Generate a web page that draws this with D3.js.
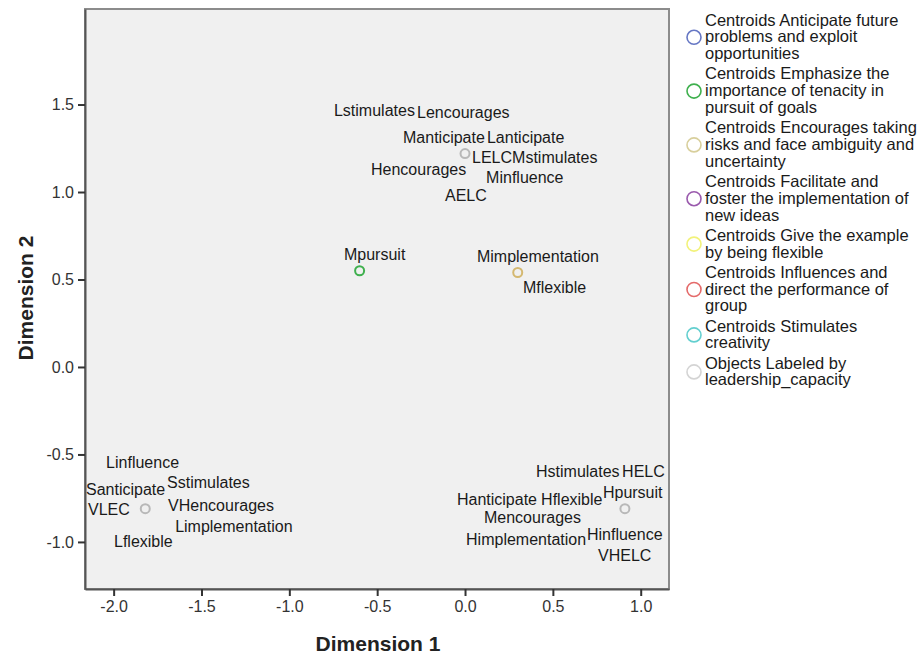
<!DOCTYPE html>
<html lang="en">
<head>
    <meta charset="utf-8">
    <title>Joint plot</title>
    <script src="https://cdn.jsdelivr.net/npm/d3@7"></script>
    <style>
        body { margin: 0; background: #fff; }
        text { font-family: Arial, "Liberation Sans", sans-serif; }
    </style>
</head>
<body>
<script>

    // legend entries (each split into its printed lines)
    var groupNames = [
        ["Centroids Anticipate future", "problems and exploit", "opportunities"],
        ["Centroids Emphasize the", "importance of tenacity in", "pursuit of goals"],
        ["Centroids Encourages taking", "risks and face ambiguity and", "uncertainty"],
        ["Centroids Facilitate and", "foster the implementation of", "new ideas"],
        ["Centroids Give the example", "by being flexible"],
        ["Centroids Influences and", "direct the performance of", "group"],
        ["Centroids Stimulates", "creativity"],
        ["Objects Labeled by", "leadership_capacity"]
    ];
    var groupColors = ["#6677c4", "#3fb04e", "#d8cf9c", "#9a5aad", "#f2f27a", "#e46a6a", "#63cfcf", "#d4d4d4"];

    // visible point markers (dimension 1, dimension 2, legend group index)
    var pointX = [-0.60, 0.30, 0.00, -1.82, 0.91];
    var pointY = [0.55, 0.54, 1.22, -0.81, -0.81];
    var pointGroup = [1, 2, 7, 7, 7];

    // category labels and where they sit (dimension 1, dimension 2)
    var labelText = ["Lstimulates", "Lencourages", "Manticipate", "Lanticipate", "LELC", "Mstimulates",
        "Hencourages", "Minfluence", "AELC", "Mpursuit", "Mimplementation", "Mflexible",
        "Linfluence", "Santicipate", "Sstimulates", "VLEC", "VHencourages", "Limplementation", "Lflexible",
        "Hstimulates", "HELC", "Hanticipate", "Hflexible", "Hpursuit", "Mencourages",
        "Himplementation", "Hinfluence", "VHELC"];
    var labelX = [-0.746, -0.273, -0.353, 0.125, 0.040, 0.268,
        -0.535, 0.120, -0.114, -0.689, 0.068, 0.330,
        -2.043, -2.157, -1.696, -2.146, -1.690, -1.650, -1.998,
        0.404, 0.894, -0.046, 0.433, 0.785, 0.108,
        0.006, 0.694, 0.757];
    var labelY = [1.434, 1.423, 1.280, 1.280, 1.166, 1.166,
        1.097, 1.051, 0.949, 0.611, 0.600, 0.423,
        -0.577, -0.731, -0.691, -0.846, -0.823, -0.943, -1.029,
        -0.629, -0.629, -0.789, -0.789, -0.749, -0.891,
        -1.017, -0.989, -1.109];

    var xTicks = [-2.0, -1.5, -1.0, -0.5, 0.0, 0.5, 1.0];
    var yTicks = [-1.0, -0.5, 0.0, 0.5, 1.0, 1.5];

    var W = 919, H = 658;
    var plot = {left: 85, top: 9, right: 669, bottom: 589};

    var svg = d3.select("body").append("svg")
        .attr("width", W)
        .attr("height", H);

    var xScale = d3.scaleLinear()
        .domain([-2.163, 1.161])
        .range([plot.left, plot.right]);

    var yScale = d3.scaleLinear()
        .domain([-1.269, 2.046])
        .range([plot.bottom, plot.top]);

    //plot area
    svg.append("rect")
        .attr("x", plot.left)
        .attr("y", plot.top)
        .attr("width", plot.right - plot.left)
        .attr("height", plot.bottom - plot.top)
        .attr("fill", "#f0f0f0")
        .attr("stroke", "#8c8c8c")
        .attr("stroke-width", 2);

    var fmt = function (d) { return d.toFixed(1); };

    var xAxis = d3.axisBottom(xScale)
        .tickValues(xTicks)
        .tickFormat(fmt)
        .tickSize(7)
        .tickSizeOuter(0)
        .tickPadding(5);

    var yAxis = d3.axisLeft(yScale)
        .tickValues(yTicks)
        .tickFormat(fmt)
        .tickSize(7)
        .tickSizeOuter(0)
        .tickPadding(4);

    var gx = svg.append("g")
        .attr("transform", "translate(0," + plot.bottom + ")")
        .call(xAxis);

    var gy = svg.append("g")
        .attr("transform", "translate(" + plot.left + ",0)")
        .call(yAxis);

    [gx, gy].forEach(function (g) {
        g.select(".domain").attr("stroke", "#555").attr("stroke-width", 2);
        g.selectAll(".tick line").attr("stroke", "#333").attr("stroke-width", 2);
        g.selectAll(".tick text")
            .attr("fill", "#333")
            .style("font-size", "16px")
            .style("font-family", "Arial, 'Liberation Sans', sans-serif");
    });

    //axis titles
    svg.append("text")
        .attr("x", 378)
        .attr("y", 651)
        .attr("text-anchor", "middle")
        .style("font-size", "21px")
        .style("font-weight", "bold")
        .attr("fill", "#222")
        .text("Dimension 1");

    svg.append("text")
        .attr("transform", "translate(33,298) rotate(-90)")
        .attr("text-anchor", "middle")
        .style("font-size", "21px")
        .style("font-weight", "bold")
        .attr("fill", "#222")
        .text("Dimension 2");

    //labels
    svg.selectAll("text.lbl")
        .data(labelText)
        .enter()
        .append("text")
        .attr("class", "lbl")
        .attr("x", function (d, i) { return xScale(labelX[i]); })
        .attr("y", function (d, i) { return yScale(labelY[i]); })
        .attr("fill", "#1a1a1a")
        .style("font-size", "16px")
        .text(function (d) { return d; });

    //points
    svg.selectAll("circle.pt")
        .data(pointX)
        .enter()
        .append("circle")
        .attr("class", "pt")
        .attr("cx", function (d) { return xScale(d); })
        .attr("cy", function (d, i) { return yScale(pointY[i]); })
        .attr("r", 4.5)
        .attr("fill", "none")
        .attr("stroke", function (d, i) {
            var c = groupColors[pointGroup[i]];
            return pointGroup[i] === 7 ? "#b8b8b8" : (pointGroup[i] === 2 ? "#d4b870" : c);
        })
        .attr("stroke-width", 2);

    //legend
    var lineH = 16.8, gap = 3.4;
    var legend = svg.append("g");
    var yPos = 20;
    groupNames.forEach(function (lines, i) {
        var item = legend.append("g");
        lines.forEach(function (line, j) {
            item.append("text")
                .attr("x", 705)
                .attr("y", yPos + j * lineH + 5.5)
                .attr("fill", "#1a1a1a")
                .style("font-size", "16.5px")
                .text(line);
        });
        var mid = yPos + (lines.length - 1) * lineH / 2;
        item.append("circle")
            .attr("cx", 694)
            .attr("cy", mid + 0.5)
            .attr("r", 7)
            .attr("fill", "none")
            .attr("stroke", groupColors[i])
            .attr("stroke-width", 1.6);
        yPos += lines.length * lineH + gap;
    });

</script>
</body>
</html>
